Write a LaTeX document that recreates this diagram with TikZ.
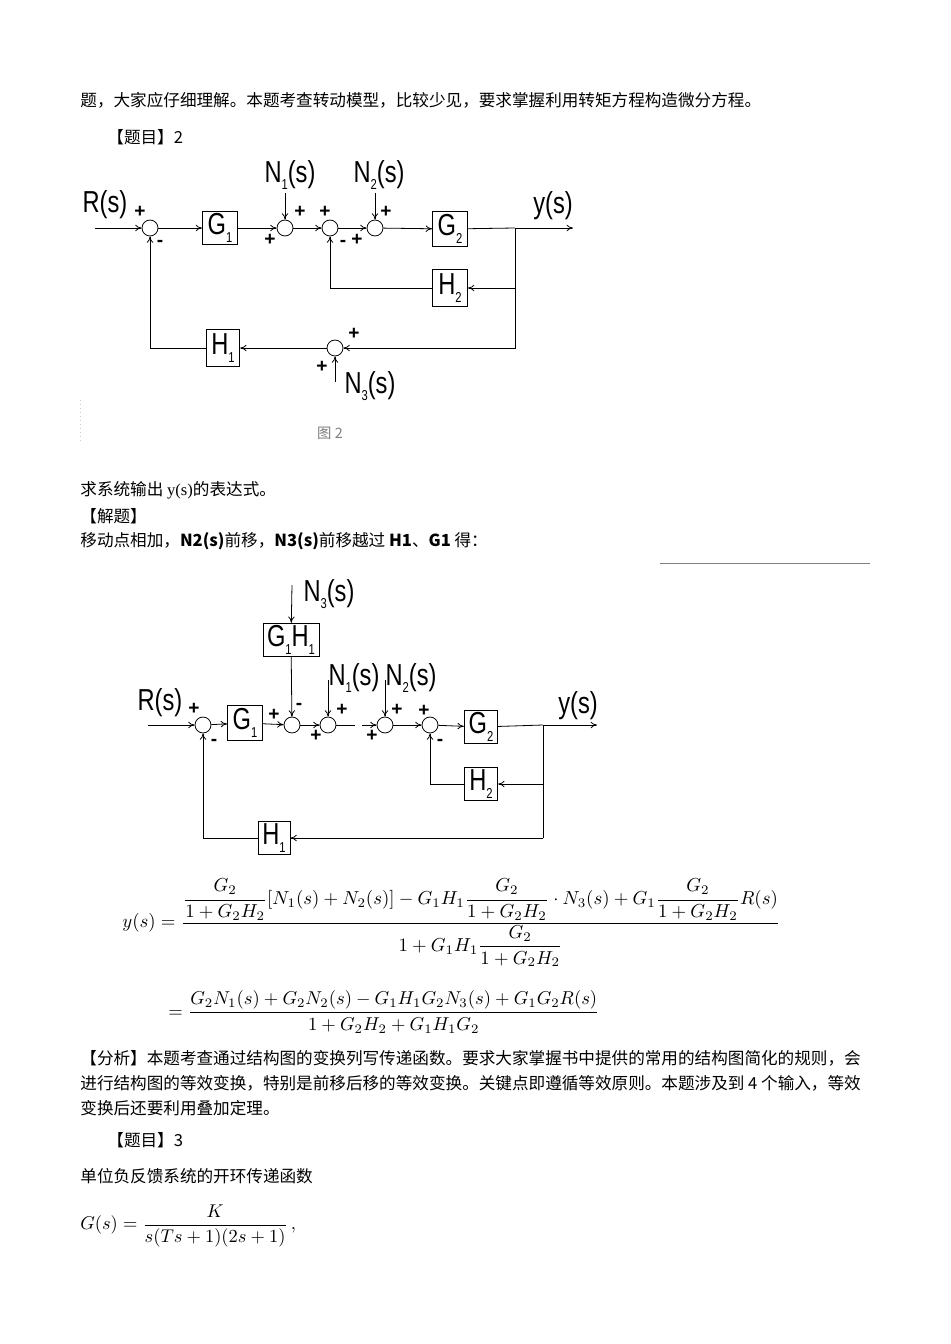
\documentclass[tikz,border=0pt]{standalone}
\usepackage{amsmath}
\usepackage{fontspec}
\usepackage{graphicx}
\setmainfont{Liberation Serif}
\setsansfont{Liberation Sans}
\newfontfamily\cjk{Noto Sans CJK SC}
\newcommand\lbl[1]{\scalebox{0.78}[1]{#1}}
\newcommand\lsub[1]{\raisebox{-0.25em}{\fontsize{9}{9}\selectfont #1}}
\usetikzlibrary{arrows.meta}
\begin{document}
\begin{tikzpicture}[x=0.6264pt,y=-0.6264pt,
  sumc/.style={circle,draw,minimum size=10pt,inner sep=0pt},
  blk/.style={draw,inner sep=0pt,font=\sffamily\fontsize{19}{20}\selectfont},
  lab/.style={font=\sffamily\fontsize{19}{20}\selectfont,inner sep=0pt},
  sg/.style={font=\sffamily\bfseries\fontsize{12}{12}\selectfont,inner sep=0pt},
  txt/.style={font=\cjk\fontsize{10.4}{14}\selectfont,anchor=west,inner sep=0pt},
  arr/.style={-{To[length=4pt,width=4pt]}},
  line width=0.5pt]
\useasboundingbox (0,0) rectangle (950,1344);
\fill[white] (0,0) rectangle (950,1344);
% header text
\node[txt] (t1) at (80,100) {题，大家应仔细理解。本题考查转动模型，比较少见，要求掌握利用转矩方程构造微分方程。};
\node[txt] (t2) at (107,137) {【题目】2};
% ---------- diagram 1
\coordinate (a0) at (95,228);
\node[sumc] (a1) at (150,228) {};
\node[blk,minimum width=22pt,minimum height=21pt] (aG1) at (220,228) {\lbl{G\lsub{1}}};
\node[sumc] (a2) at (285,228) {};
\node[sumc] (a3) at (330,228) {};
\node[sumc] (a4) at (375,228) {};
\node[blk,minimum width=22pt,minimum height=22pt] (aG2) at (450,229) {\lbl{G\lsub{2}}};
\coordinate (ab) at (515,228);
\coordinate (aout) at (573,228);
\node[blk,minimum width=22pt,minimum height=23pt] (aH2) at (450,288) {\lbl{H\lsub{2}}};
\coordinate (ab2) at (515,288);
\coordinate (ab3) at (515,348);
\node[sumc] (a5) at (335,348) {};
\node[blk,minimum width=21pt,minimum height=23pt] (aH1) at (223,348) {\lbl{H\lsub{1}}};
\coordinate (an1) at (285,193);
\coordinate (an2) at (375,193);
\coordinate (an3) at (335,382);
\draw[arr] (a0) -- (a1);
\draw[arr] (a1) -- (aG1);
\draw[arr] (aG1) -- (a2);
\draw[arr] (a2) -- (a3);
\draw[arr] (a3) -- (a4);
\draw[arr] (a4) -- (aG2);
\draw (aG2) -- (ab);
\draw[arr] (ab) -- (aout);
\draw (ab) -- (ab2);
\draw[arr] (ab2) -- (aH2);
\draw[arr] (aH2) -| (a3);
\draw[arr] (ab2) -- (ab3) -- (a5);
\draw[arr] (a5) -- (aH1);
\draw[arr] (aH1) -| (a1);
\draw[arr] (an1) -- (a2);
\draw[arr] (an2) -- (a4);
\draw[arr] (an3) -- (a5);
\node[lab] (aR) at (105,205) {\lbl{R(s)}};
\node[lab] (aY) at (553,206) {\lbl{y(s)}};
\node[lab] (aN1) at (290,175) {\lbl{N\lsub{1}(s)}};
\node[lab] (aN2) at (379,175) {\lbl{N\lsub{2}(s)}};
\node[lab] (aN3) at (370,386) {\lbl{N\lsub{3}(s)}};
\node[sg] at (140,212) {+};
\node[sg] at (160,243) {-};
\node[sg] at (300,212) {+};
\node[sg] at (270,240) {+};
\node[sg] at (325,212) {+};
\node[sg] at (343,243) {-};
\node[sg] at (386,212) {+};
\node[sg] at (357,240) {+};
\node[sg] at (354,334) {+};
\node[sg] at (322,367) {+};
\node[font=\cjk\fontsize{9}{9}\selectfont,text=gray] (fig) at (330,433) {图 2};
\draw[gray!40,dotted] (80,400) -- (80,440);
% middle text
\node[txt] (t3) at (80,490) {求系统输出 \textrm{y(s)}的表达式。};
\node[txt] (t4) at (80,516) {【解题】};
\node[txt] (t5) at (80,541) {移动点相加，\textbf{N2(s)}前移，\textbf{N3(s)}前移越过 \textbf{H1}、\textbf{G1} 得：};
\draw[gray] (660,563) -- (870,563);
% ---------- diagram 2
\coordinate (b0) at (148,725);
\node[sumc] (b1) at (203,725) {};
\node[blk,minimum width=22pt,minimum height=22pt] (bG1) at (245,723) {\lbl{G\lsub{1}}};
\node[sumc] (b2) at (292,725) {};
\node[blk,minimum width=35pt,minimum height=21pt] (bGH) at (291,640) {\lbl{G\lsub{1}H\lsub{1}}};
\coordinate (bn3) at (292,585);
\node[sumc] (b3) at (328,725) {};
\coordinate (bg1) at (355,725);
\coordinate (bg2) at (362,725);
\node[sumc] (b4) at (385,725) {};
\node[sumc] (b5) at (430,725) {};
\node[blk,minimum width=21pt,minimum height=21pt] (bG2) at (481,727) {\lbl{G\lsub{2}}};
\coordinate (bb) at (543,725);
\coordinate (bout) at (597,725);
\node[blk,minimum width=21pt,minimum height=21pt] (bH2) at (481,784) {\lbl{H\lsub{2}}};
\coordinate (bb2) at (543,784);
\node[blk,minimum width=20pt,minimum height=21pt] (bH1) at (274,838) {\lbl{H\lsub{1}}};
\coordinate (bb3) at (543,838);
\coordinate (bn1) at (328,680);
\coordinate (bn2) at (385,680);
\draw[arr] (b0) -- (b1);
\draw[arr] (b1) -- (bG1);
\draw[arr] (bG1) -- (b2);
\draw[arr] (bn3) -- (bGH);
\draw[arr] (bGH) -- (b2);
\draw[arr] (b2) -- (b3);
\draw (b3) -- (bg1);
\draw[arr] (bg2) -- (b4);
\draw[arr] (b4) -- (b5);
\draw[arr] (b5) -- (bG2);
\draw (bG2) -- (bb);
\draw[arr] (bb) -- (bout);
\draw (bb) -- (bb3);
\draw[arr] (bb2) -- (bH2);
\draw[arr] (bH2) -| (b5);
\draw[arr] (bb3) -- (bH1);
\draw[arr] (bH1) -| (b1);
\draw[arr] (bn1) -- (b3);
\draw[arr] (bn2) -- (b4);
\node[lab] (bR) at (160,703) {\lbl{R(s)}};
\node[lab] (bY) at (578,706) {\lbl{y(s)}};
\node[lab] (bN3) at (329,594) {\lbl{N\lsub{3}(s)}};
\node[lab] (bN1) at (354,678) {\lbl{N\lsub{1}(s)}};
\node[lab] (bN2) at (411,678) {\lbl{N\lsub{2}(s)}};
\node[sg] at (194,709) {+};
\node[sg] at (214,742) {-};
\node[sg] at (274,715) {+};
\node[sg] at (299,706) {-};
\node[sg] at (342,710) {+};
\node[sg] at (316,736) {+};
\node[sg] at (397,710) {+};
\node[sg] at (372,736) {+};
\node[sg] at (424,711) {+};
\node[sg] at (440,742) {-};
% equations
\node[anchor=west,inner sep=0pt] (e1) at (122,923) {\resizebox{412pt}{!}{$\displaystyle y(s)=\frac{\dfrac{G_2}{1+G_2H_2}[N_1(s)+N_2(s)]-G_1H_1\dfrac{G_2}{1+G_2H_2}\cdot N_3(s)+G_1\dfrac{G_2}{1+G_2H_2}R(s)}{1+G_1H_1\dfrac{G_2}{1+G_2H_2}}$}};
\node[anchor=west,inner sep=0pt] (e2) at (168,1012) {\resizebox{270pt}{!}{$\displaystyle =\frac{G_2N_1(s)+G_2N_2(s)-G_1H_1G_2N_3(s)+G_1G_2R(s)}{1+G_2H_2+G_1H_1G_2}$}};
% analysis
\node[txt,anchor=north west,align=left,font=\cjk\fontsize{10.4}{15.6}\selectfont] (t6) at (80,1050) {【分析】本题考查通过结构图的变换列写传递函数。要求大家掌握书中提供的常用的结构图简化的规则，会\\进行结构图的等效变换，特别是前移后移的等效变换。关键点即遵循等效原则。本题涉及到 4 个输入，等效\\变换后还要利用叠加定理。};
\node[txt] (t7) at (107,1140) {【题目】3};
\node[txt] (t8) at (80,1176) {单位负反馈系统的开环传递函数};
\node[anchor=west,inner sep=0pt] (e3) at (80,1226) {\resizebox{135pt}{!}{$\displaystyle G(s)=\frac{K}{s(Ts+1)(2s+1)}\,,$}};
\end{tikzpicture}
\end{document}
